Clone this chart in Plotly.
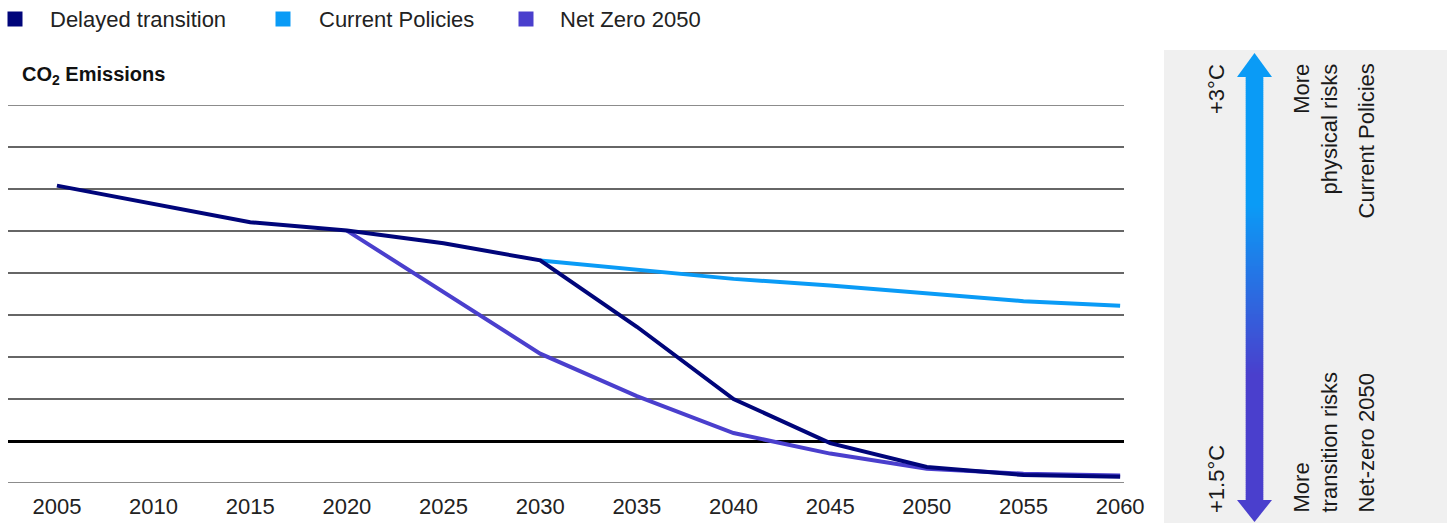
import plotly.graph_objects as go

# ---- data -------------------------------------------------------------
years_delayed = [2005, 2010, 2015, 2020, 2025, 2030, 2035, 2040, 2045, 2050, 2055, 2060]
delayed = [6.08, 5.65, 5.21, 5.01, 4.71, 4.30, 2.72, 1.00, -0.05, -0.62, -0.81, -0.85]

years_current = [2030, 2035, 2040, 2045, 2050, 2055, 2060]
current = [4.30, 4.07, 3.86, 3.70, 3.52, 3.33, 3.22]

years_netzero = [2020, 2025, 2030, 2035, 2040, 2045, 2050, 2055, 2060]
netzero = [5.01, 3.54, 2.08, 1.07, 0.19, -0.30, -0.66, -0.78, -0.82]

x_ticks = [2005, 2010, 2015, 2020, 2025, 2030, 2035, 2040, 2045, 2050, 2055, 2060]
y_range = [-1, 8]

series_names = ["Delayed transition", "Current Policies", "Net Zero 2050"]
series_colors = ["#00057a", "#0a9bf6", "#4a3fcd"]

# ---- page geometry ----------------------------------------------------
W, H = 1452, 523
ML, MR, MT, MB = 8, 328, 105, 40
PW = W - ML - MR
PH = H - MT - MB


def px(x):
    return (x - ML) / PW


def py(y):
    return (H - MB - y) / PH


FONT = "Liberation Sans, Arial, sans-serif"

fig = go.Figure()

# Net Zero underneath, Delayed transition on top
fig.add_trace(go.Scatter(x=years_netzero, y=netzero, mode="lines",
                         line=dict(color=series_colors[2], width=4),
                         name=series_names[2], showlegend=False))
fig.add_trace(go.Scatter(x=years_current, y=current, mode="lines",
                         line=dict(color=series_colors[1], width=4),
                         name=series_names[1], showlegend=False))
fig.add_trace(go.Scatter(x=years_delayed, y=delayed, mode="lines",
                         line=dict(color=series_colors[0], width=4),
                         name=series_names[0], showlegend=False))

shapes = []
annotations = []

# grid lines on the two range edges (the axis grid skips them)
for yv in y_range:
    shapes.append(dict(type="line", xref="x domain", yref="y", layer="below",
                       x0=0, x1=1, y0=yv, y1=yv, line=dict(color="#666", width=1.5)))

# legend row
legend_sq = [15, 283, 526]
legend_tx = [48, 317, 558]
for name, col, sx, tx in zip(series_names, series_colors, legend_sq, legend_tx):
    shapes.append(dict(type="rect", xref="paper", yref="paper",
                       x0=px(sx - 7.5), x1=px(sx + 7.5), y0=py(26.5), y1=py(11.5),
                       fillcolor=col, line=dict(width=0)))
    annotations.append(dict(text=name, xref="paper", yref="paper",
                            x=px(tx), y=py(19), xanchor="left", yanchor="middle",
                            showarrow=False, font=dict(size=22, color="#222", family=FONT)))

# chart title
annotations.append(dict(text="<b>CO<sub>2</sub> Emissions</b>", xref="paper", yref="paper",
                        x=px(20), y=py(75), xanchor="left", yanchor="middle",
                        showarrow=False, font=dict(size=20, color="#111", family=FONT)))

# right-hand scenario panel
shapes.append(dict(type="rect", xref="paper", yref="paper", layer="below",
                   x0=px(1164), x1=px(1447), y0=py(523), y1=py(50),
                   fillcolor="#f0f0f0", line=dict(width=0)))


def hex_rgb(h):
    h = h.lstrip("#")
    return tuple(int(h[i:i + 2], 16) for i in (0, 2, 4))


c_top = hex_rgb(series_colors[1])
c_bot = hex_rgb(series_colors[2])
g0, g1 = 205, 375
ax_c = 1254.5
y = 76
while y < 501:
    t = min(max((y + 1 - g0) / (g1 - g0), 0), 1)
    c = tuple(round(a + (b - a) * t) for a, b in zip(c_top, c_bot))
    shapes.append(dict(type="rect", xref="paper", yref="paper",
                       x0=px(ax_c - 8.8), x1=px(ax_c + 8.8), y0=py(y + 2.4), y1=py(y),
                       fillcolor="rgb(%d,%d,%d)" % c, line=dict(width=0)))
    y += 2

# arrow heads
shapes.append(dict(type="path", xref="paper", yref="paper",
                   path="M %f,%f L %f,%f L %f,%f Z" % (px(ax_c), py(53), px(ax_c - 17.5), py(77),
                                                     px(ax_c + 17.5), py(77)),
                   fillcolor=series_colors[1], line=dict(width=0)))
shapes.append(dict(type="path", xref="paper", yref="paper",
                   path="M %f,%f L %f,%f L %f,%f Z" % (px(ax_c), py(522), px(ax_c - 17.5), py(500),
                                                     px(ax_c + 17.5), py(500)),
                   fillcolor=series_colors[2], line=dict(width=0)))

panel_text = [
    ("+3°C", 1216, "top", "center"),
    ("More<br>physical risks", 1315, "top", "right"),
    ("Current Policies", 1366, "top", "center"),
    ("+1.5°C", 1216, "bottom", "center"),
    ("More<br>transition risks", 1315, "bottom", "left"),
    ("Net-zero 2050", 1366, "bottom", "center"),
]
for txt, xc, anchor, align in panel_text:
    annotations.append(dict(text=txt, xref="paper", yref="paper", textangle=-90,
                            x=px(xc), y=py(62 if anchor == "top" else 515),
                            xanchor="center", yanchor=anchor, align=align,
                            showarrow=False, font=dict(size=22, color="#1a1a1a", family=FONT)))

fig.update_layout(
    width=W, height=H,
    margin=dict(l=ML, r=MR, t=MT, b=MB),
    paper_bgcolor="white", plot_bgcolor="white",
    showlegend=False,
    shapes=shapes, annotations=annotations,
    xaxis=dict(range=[2002.47, 2060.2], tickmode="array", tickvals=x_ticks,
               showgrid=False, zeroline=False, showline=False, ticks="",
               ticklabelstandoff=8, automargin=False,
               tickfont=dict(size=22, color="#222", family=FONT)),
    yaxis=dict(range=y_range, dtick=1, tick0=0, showticklabels=False,
               showgrid=True, gridcolor="#666", gridwidth=1.5,
               zeroline=True, zerolinecolor="#000", zerolinewidth=2.5,
               showline=False, ticks="", automargin=False),
)

fig.write_html("out.html")
